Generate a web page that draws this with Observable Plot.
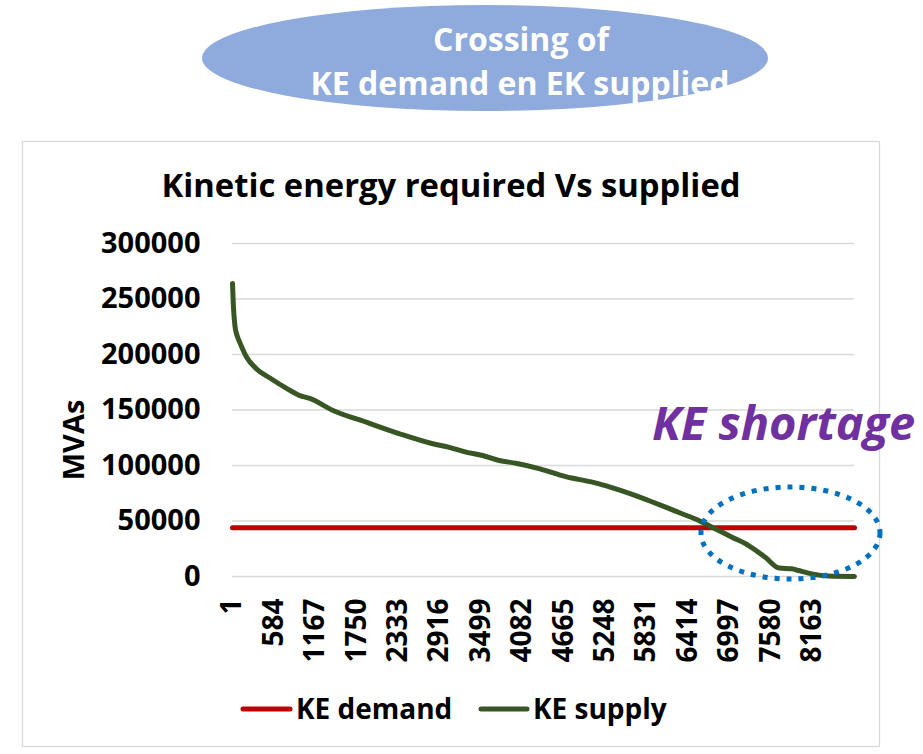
<!DOCTYPE html>
<html>
<head>
<meta charset="utf-8">
<script src="https://cdn.jsdelivr.net/npm/d3@7"></script>
<script src="https://cdn.jsdelivr.net/npm/@observablehq/plot@0.6"></script>
<style>
  html, body { margin: 0; padding: 0; background: #ffffff; }
  #wrap { position: relative; width: 923px; height: 754px; overflow: hidden; font-family: "Open Sans", sans-serif; }
  #wrap > svg { position: absolute; left: 0; top: 0; }
</style>
</head>
<body>
<div id="wrap"></div>
<script>
// ---- data ----
const hours = [1, 12, 36, 66, 106, 200, 340, 528, 762, 950, 1089, 1417, 1886, 2354, 2821, 3055, 3290, 3523, 3758, 3991, 4330, 4693, 5068, 5163, 5400, 5631, 5860, 6100, 6332, 6567, 6754, 7035, 7269, 7503, 7700, 7880, 7972, 8157, 8391, 8760];
const keSupply = [264000, 245700, 225500, 217000, 210500, 197600, 187000, 178800, 169500, 163000, 160500, 149600, 139000, 128600, 119600, 116300, 112000, 109000, 104500, 102000, 97000, 90000, 85000, 83500, 79000, 74000, 68500, 62500, 56500, 50500, 44400, 35400, 27900, 17400, 7600, 7000, 5400, 2400, 400, 0];
const demandHours = [1, 8760];
const keDemand = [44000, 44000];
const xTicks = [1, 584, 1167, 1750, 2333, 2916, 3499, 4082, 4665, 5248, 5831, 6414, 6997, 7580, 8163];
const yTicks = [0, 50000, 100000, 150000, 200000, 250000, 300000];
const seriesNames = ["KE demand", "KE supply"];
const seriesColors = ["#C00000", "#375623"];

const supplyData = hours.map((h, i) => ({h, v: keSupply[i]}));
const demandData = demandHours.map((h, i) => ({h, v: keDemand[i]}));

const W = 923, H = 754;
const wrap = document.getElementById("wrap");
const NS = "http://www.w3.org/2000/svg";
function el(tag, attrs, text) {
  const e = document.createElementNS(NS, tag);
  for (const k in attrs) e.setAttribute(k, attrs[k]);
  if (text != null) e.textContent = text;
  return e;
}

// background layer: frame
const bg = el("svg", {width: W, height: H});
bg.appendChild(el("rect", {x: 22.5, y: 141.5, width: 857, height: 605, fill: "#ffffff", stroke: "#D9D9D9", "stroke-width": 1.3}));
wrap.appendChild(bg);

// ---- chart ----
const chart = Plot.plot({
  width: W,
  height: H,
  marginLeft: 232,
  marginRight: 69,
  marginTop: 243,
  marginBottom: H - 576,
  style: {background: "transparent", fontFamily: "'Open Sans', sans-serif", color: "#000"},
  x: {type: "linear", domain: [1, 8760]},
  y: {domain: [0, 300000]},
  marks: [
    Plot.gridY(yTicks, {stroke: "#D9D9D9", strokeOpacity: 1, strokeWidth: 1.5}),
    Plot.axisY(yTicks, {tickSize: 0, tickPadding: 32, fontSize: 29, fontWeight: "bold", tickFormat: d3.format("d"), label: null}),
    Plot.axisX(xTicks, {tickSize: 0, tickPadding: 22, tickRotate: -90, fontSize: 28, fontWeight: "bold", tickFormat: d => String(d), label: null}),
    Plot.line(demandData, {x: "h", y: "v", stroke: seriesColors[0], strokeWidth: 5}),
    Plot.line(supplyData, {x: "h", y: "v", stroke: seriesColors[1], strokeWidth: 5, strokeLinejoin: "round", curve: "monotone-x"})
  ]
});
wrap.appendChild(chart);

// ---- overlay annotations ----
const ov = el("svg", {width: W, height: H, "font-family": "'Open Sans', sans-serif"});
ov.style.pointerEvents = "none";
// top ellipse
ov.appendChild(el("ellipse", {cx: 485, cy: 58, rx: 283, ry: 53, fill: "#8FAADC"}));
ov.appendChild(el("text", {x: 521, y: 51, "text-anchor": "middle", "font-size": 32, "font-weight": "bold", fill: "#fff"}, "Crossing of"));
ov.appendChild(el("text", {x: 520, y: 95, "text-anchor": "middle", "font-size": 32, "font-weight": "bold", fill: "#fff"}, "KE demand en EK supplied"));
// chart title
ov.appendChild(el("text", {x: 451, y: 197, "text-anchor": "middle", "font-size": 32.8, "font-weight": "bold", fill: "#000"}, "Kinetic energy required Vs supplied"));
// y label
ov.appendChild(el("text", {transform: "translate(84,440) rotate(-90)", "text-anchor": "middle", "font-size": 29, "font-weight": "bold", fill: "#000"}, "MVAs"));
// dotted ellipse
ov.appendChild(el("ellipse", {cx: 790.5, cy: 533, rx: 89.5, ry: 46, fill: "none", stroke: "#0070C0", "stroke-width": 5, "stroke-dasharray": "5 7"}));
// KE shortage
ov.appendChild(el("text", {x: 652, y: 440, "font-size": 47, "font-weight": "bold", "font-style": "italic", fill: "#7030A0"}, "KE shortage"));
// legend
const leg = [{x1: 243, x2: 290, tx: 296}, {x1: 481, x2: 527, tx: 533}];
leg.forEach((g, i) => {
  ov.appendChild(el("line", {x1: g.x1, x2: g.x2, y1: 709, y2: 709, stroke: seriesColors[i], "stroke-width": 5, "stroke-linecap": "round"}));
  ov.appendChild(el("text", {x: g.tx, y: 719, "font-size": 28, "font-weight": "bold", fill: "#000"}, seriesNames[i]));
});
wrap.appendChild(ov);
</script>
</body>
</html>
